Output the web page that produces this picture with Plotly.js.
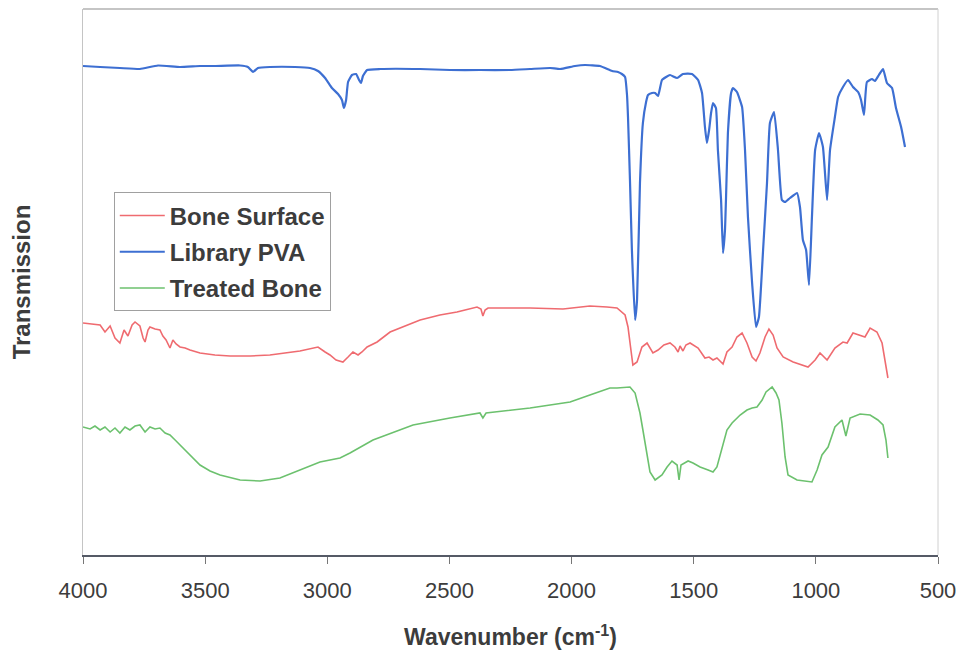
<!DOCTYPE html>
<html>
<head>
<meta charset="utf-8">
<script src="https://cdn.plot.ly/plotly-3.0.1.min.js"></script>
<style>
  html, body { margin: 0; padding: 0; background: #fff; }
  #chart { width: 962px; height: 661px; }
</style>
</head>
<body>
<div id="chart"></div>
<script>
// FTIR spectra: wavenumber (cm^-1) against relative transmission (arbitrary units)

const tickVals = [4000, 3500, 3000, 2500, 2000, 1500, 1000, 500];
const tickText = ['4000', '3500', '3000', '2500', '2000', '1500', '1000', '500'];

const seriesNames = ['Bone Surface', 'Library PVA', 'Treated Bone'];

// Bone Surface
const boneWn = [4000,3951,3930,3910,3889,3869,3849,3832,3816,3799,
  3787,3767,3754,3746,3734,3726,3705,3685,3673,3660,
  3644,3632,3619,3603,3582,3562,3521,3460,3398,3316,
  3235,3112,3038,3009,2989,2964,2936,2915,2895,2874,
  2858,2837,2796,2743,2682,2620,2539,2469,2387,2371,
  2363,2354,2342,2170,2035,1925,1855,1814,1781,1769,
  1757,1749,1732,1712,1691,1667,1646,1622,1597,1577,
  1564,1556,1544,1532,1515,1482,1454,1437,1421,1405,
  1380,1364,1343,1323,1302,1282,1261,1245,1229,1208,
  1192,1175,1159,1134,1093,1032,1003,983,954,922,
  889,872,848,799,778,750,729,717,705];
const boneT = [46.4,46.2,46,44.6,45.8,43.4,42.4,45,43.8,46,
  46.6,45.8,43.4,42.6,45,45.6,45.2,45,43.8,43,
  41.4,43,42.2,41.6,41.4,41,40.4,40,39.8,39.8,
  40,40.8,41.6,40.6,40,39,38.6,39.6,40.6,40,
  40.6,41.6,42.6,44.6,45.8,47,48,48.6,49.6,49.2,
  47.8,49,49.4,49.4,49.2,49.8,49.6,49.4,48,45.6,
  41,38,38.6,41.6,42.4,40.4,41,42,42.4,41.6,
  40.6,41.8,40.8,42,42.4,41.4,39.4,39.6,39,39.4,
  38.2,40.6,41.6,43.6,44.4,42.4,39.6,38.8,40.4,43.6,
  45.2,44,41.4,39.6,38.6,37.6,39,40.4,39,41.4,
  42.6,42.4,44.4,43.6,45.4,44.6,42.4,39,35.4];

// Library PVA
const pvaWn = [4000,3930,3849,3767,3693,3603,3521,3460,3357,3325,
  3304,3284,3235,3132,3071,3038,3009,2981,2956,2940,
  2932,2923,2915,2899,2882,2870,2862,2854,2837,2784,
  2620,2498,2375,2252,2170,2088,2047,1986,1945,1884,
  1834,1810,1794,1781,1773,1769,1761,1753,1740,1732,
  1720,1708,1695,1687,1671,1658,1646,1630,1613,1597,
  1568,1544,1507,1482,1466,1454,1446,1437,1429,1421,
  1409,1401,1388,1380,1372,1368,1360,1347,1339,1323,
  1302,1290,1278,1261,1245,1233,1216,1200,1188,1171,
  1155,1139,1126,1106,1077,1065,1053,1040,1028,1016,
  1003,987,971,954,942,922,909,889,868,848,
  827,815,803,791,770,758,742,725,709,688,
  672,651,635];
const pvaT = [97.8,97.6,97.4,97.2,97.9,97.6,97.8,97.8,97.9,97.6,
  96.6,97.4,97.6,97.6,97.4,96.8,95.4,93.4,92.2,91,
  89.4,91,94.6,96,96.2,95,94.4,95.8,97,97.2,
  97.2,97,97,97,97.2,97.4,97.2,97.8,98,97.8,
  96.8,96.6,96.2,95.6,92,87.6,75,61,47,51,
  74.4,86.4,90.6,92,92.4,92.4,91.8,95,95.6,96,
  95.4,96.2,96.2,95,92.4,85.6,82.4,85,88.4,90.4,
  89.4,81,71,60.4,65,71,84.4,92.4,93.4,92.6,
  89.6,81,67.6,54.4,45.6,47.6,61,74.4,86.4,88.6,
  81,71,70.6,71.4,72.4,69.6,63,61,54,67.6,
  81,84.4,81.6,71,81,87.6,91.6,93.6,95,93.6,
  92.6,91,88,94.6,95.2,94.8,96,97.2,94.4,93.4,
  89.4,85.6,81.6];

// Treated Bone
const treatedWn = [4000,3971,3951,3930,3910,3889,3869,3849,3828,3808,
  3787,3767,3746,3726,3705,3685,3664,3644,3623,3603,
  3582,3562,3521,3480,3439,3357,3275,3194,3112,3030,
  2948,2907,2813,2649,2498,2375,2363,2350,2170,2006,
  1925,1843,1814,1761,1740,1720,1708,1691,1679,1658,
  1630,1609,1589,1568,1560,1552,1523,1503,1474,1441,
  1421,1405,1384,1364,1343,1310,1282,1261,1241,1220,
  1204,1179,1163,1151,1139,1126,1114,1077,1016,995,
  975,950,922,893,877,860,819,778,746,725,
  713,705];
const treatedT = [25.6,25.2,25.8,25,25.6,24.6,25.4,24.4,25.6,25,
  25.8,26,24.6,25.6,25.2,25.4,24.4,24,23,22,
  21,20,18,16.8,16,15,14.8,15.4,17,18.6,
  19.4,20.4,23,26,27.4,28.4,27.4,28.4,29.4,30.6,
  32,33.4,33.4,33.6,32.4,28.4,25,19.6,16.6,15,
  16,17.6,18.8,18,15,18,18.8,18.4,17.6,17,
  16.6,17.6,21.6,25,26.4,28,29,29.4,29.6,31,
  32.6,33.6,32.4,31,26.4,19.6,16,15,14.6,17,
  20,21.6,25.6,27,23.8,27.4,28.2,28,27,26,
  23,19.4];

const colors = ['#ef6b70', '#3d6fd2', '#6cc16e'];

const traces = [
  {x: boneWn, y: boneT, name: seriesNames[0], legendgroup: 'g1', type: 'scatter', mode: 'lines',
   line: {color: colors[0], width: 1.6}},
  {x: pvaWn, y: pvaT, name: seriesNames[1], legendgroup: 'g2', type: 'scatter', mode: 'lines',
   line: {color: colors[1], width: 2.2, shape: 'spline', smoothing: 0.4}},
  {x: treatedWn, y: treatedT, name: seriesNames[2], legendgroup: 'g3', type: 'scatter', mode: 'lines',
   line: {color: colors[2], width: 1.6}}
];

const textColor = '#3c3c3c';

const layout = {
  width: 962,
  height: 661,
  margin: {l: 83, r: 24, t: 9, b: 106},
  paper_bgcolor: '#ffffff',
  plot_bgcolor: '#ffffff',
  font: {family: 'Liberation Sans, Arial, sans-serif', color: textColor},
  showlegend: true,
  xaxis: {
    range: [4000, 500],
    tickvals: tickVals,
    ticktext: tickText,
    ticks: 'outside',
    ticklen: 7,
    tickwidth: 1,
    tickcolor: '#777777',
    ticklabelstandoff: 8,
    showline: true,
    linecolor: '#555a66',
    linewidth: 1.5,
    showgrid: false,
    zeroline: false,
    tickfont: {size: 22, color: textColor},
    title: {text: 'Wavenumber (cm<sup>-1</sup>)', font: {size: 23, weight: 'bold', color: textColor}, standoff: 27}
  },
  yaxis: {
    range: [0, 109.2],
    showticklabels: false,
    ticks: '',
    showgrid: false,
    zeroline: false,
    showline: true,
    linecolor: '#c4c4c4',
    linewidth: 1,
    title: {text: 'Transmission', font: {size: 24, weight: 'bold', color: textColor}, standoff: 44}
  },
  legend: {
    x: 0.036,
    y: 0.664,
    xanchor: 'left',
    yanchor: 'top',
    traceorder: 'grouped',
    tracegroupgap: 2,
    bgcolor: '#ffffff',
    bordercolor: '#a0a0a0',
    borderwidth: 1,
    itemwidth: 45,
    font: {size: 24, weight: 'bold', color: textColor}
  },
  shapes: [
    {type: 'line', xref: 'paper', yref: 'paper', x0: 0, x1: 1, y0: 1, y1: 1,
     line: {color: '#8c8c8c', width: 1.2}},
    {type: 'line', xref: 'paper', yref: 'paper', x0: 1, x1: 1, y0: 0, y1: 1,
     line: {color: '#d0d0d0', width: 1}}
  ]
};

Plotly.newPlot('chart', traces, layout, {displayModeBar: false, staticPlot: true});
</script>
</body>
</html>
